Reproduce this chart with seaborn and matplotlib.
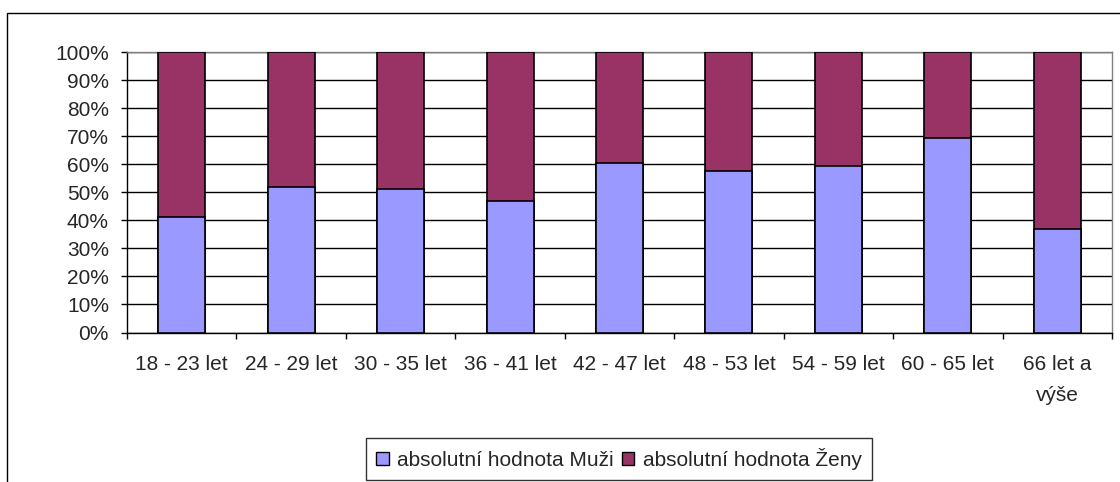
import matplotlib

matplotlib.use("Agg")
import matplotlib.pyplot as plt
import numpy as np
import pandas as pd
import seaborn as sns
from matplotlib.patches import Rectangle
from matplotlib.ticker import FixedLocator, PercentFormatter


CATEGORIES = [
    "18 - 23 let",
    "24 - 29 let",
    "30 - 35 let",
    "36 - 41 let",
    "42 - 47 let",
    "48 - 53 let",
    "54 - 59 let",
    "60 - 65 let",
    "66 let a\nvýše",
]
MUZI = [0.413, 0.519, 0.512, 0.470, 0.605, 0.576, 0.592, 0.692, 0.369]
ZENY = [0.587, 0.481, 0.488, 0.530, 0.395, 0.424, 0.408, 0.308, 0.631]
SERIES_NAMES = ["absolutní hodnota Muži", "absolutní hodnota Ženy"]
COLOR_MUZI = "#9999FF"
COLOR_ZENY = "#993366"
FONT_SIZE = 15


def main() -> None:
    sns.set_style("white")
    plt.rcParams["font.family"] = ["Liberation Sans", "DejaVu Sans"]

    df = pd.DataFrame({"kategorie": CATEGORIES, "muzi": MUZI, "zeny": ZENY})
    df["celkem"] = df["muzi"] + df["zeny"]

    fig = plt.figure(figsize=(11.2, 4.82), dpi=100)
    ax = fig.add_axes([127 / 1120, 1 - 332.5 / 482, (1112 - 127) / 1120, (332.5 - 52) / 482])

    # stacked: full bar in Ženy colour, Muži drawn on top of it
    sns.barplot(data=df, x="kategorie", y="celkem", color=COLOR_ZENY, width=0.43,
                edgecolor="black", linewidth=1.2, saturation=1, ax=ax, zorder=3)
    sns.barplot(data=df, x="kategorie", y="muzi", color=COLOR_MUZI, width=0.43,
                edgecolor="black", linewidth=1.2, saturation=1, ax=ax, zorder=4)

    ax.set_xlim(-0.5, len(CATEGORIES) - 0.5)
    ax.set_ylim(0, 1)
    ax.set_xlabel("")
    ax.set_ylabel("")

    ax.yaxis.set_major_locator(FixedLocator(np.arange(0, 1.01, 0.1)))
    ax.yaxis.set_major_formatter(PercentFormatter(1.0, decimals=0))
    ax.grid(axis="y", color="black", linewidth=1, zorder=0)
    ax.set_axisbelow(True)

    ax.xaxis.set_minor_locator(FixedLocator(np.arange(-0.5, len(CATEGORIES), 1)))
    ax.tick_params(axis="x", which="major", length=0, pad=16.5, labelsize=FONT_SIZE)
    ax.tick_params(axis="x", which="minor", length=4, width=1, color="black", direction="out", bottom=True)
    ax.tick_params(axis="y", length=4, width=1, color="black", direction="out", left=True, pad=9,
                   labelsize=FONT_SIZE)
    for label in ax.get_xticklabels():
        label.set_linespacing(1.75)

    for side in ["left", "bottom"]:
        ax.spines[side].set_color("black")
        ax.spines[side].set_linewidth(1)
    for side in ["top", "right"]:
        ax.spines[side].set_color("#808080")
        ax.spines[side].set_linewidth(1)

    handles = [
        Rectangle((0, 0), 1, 1, facecolor=COLOR_MUZI, edgecolor="black", linewidth=1),
        Rectangle((0, 0), 1, 1, facecolor=COLOR_ZENY, edgecolor="black", linewidth=1),
    ]
    leg = fig.legend(handles, SERIES_NAMES, ncol=2, loc="center",
                     bbox_to_anchor=(619 / 1120, 1 - 459 / 482), frameon=True,
                     fancybox=False, edgecolor="black", fontsize=FONT_SIZE,
                     handlelength=0.6, handleheight=0.6, handletextpad=0.4,
                     columnspacing=0.4, borderpad=0.5, borderaxespad=0)
    leg.get_frame().set_linewidth(1)

    # outer chart frame
    fig.patches.append(Rectangle((7 / 1120, -0.1), 1.2, 1 - 13 / 482 + 0.1,
                                 transform=fig.transFigure, fill=False,
                                 edgecolor="black", linewidth=1))

    fig.savefig("out.png", dpi=100)
    plt.close(fig)


if __name__ == "__main__":
    main()
